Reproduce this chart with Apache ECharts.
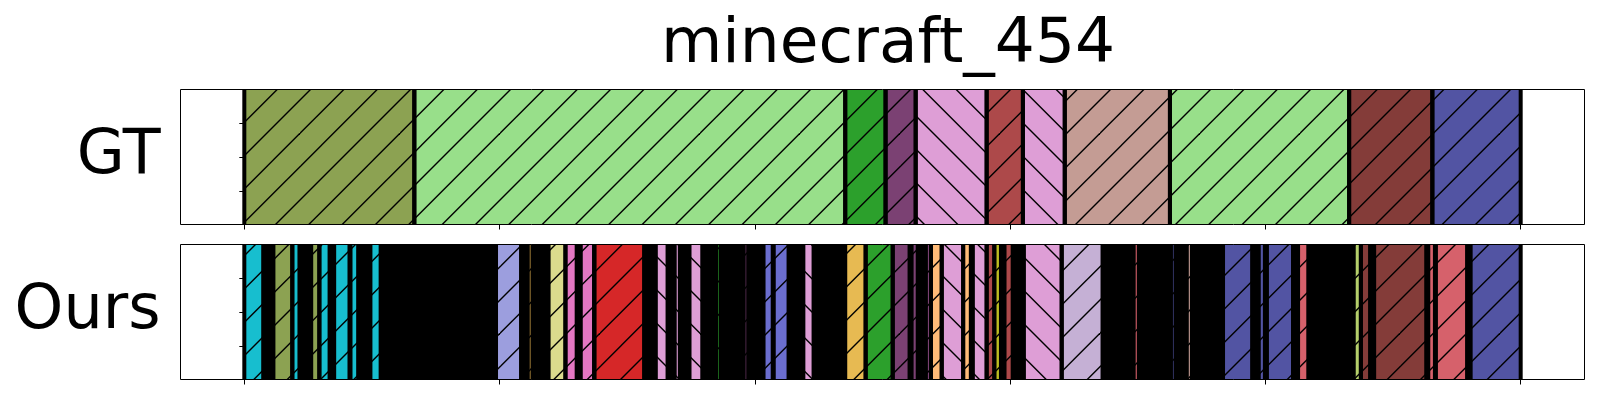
<!DOCTYPE html>
<html><head><meta charset="utf-8">
<script src="https://cdn.jsdelivr.net/npm/echarts@6/dist/echarts.min.js"></script>
<style>html,body{margin:0;padding:0;background:#fff}#c{width:1600px;height:400px}</style>
</head><body><div id="c"></div>
<script>
// ---------------- data ----------------
const chartTitle = 'minecraft_454';
const rowNames = ['GT', 'Ours'];
const videoLength = 2500;
const xTickValues = [0, 500, 1000, 1500, 2000, 2500];

// ground-truth segments (frame start, frame end, class id)
const gtStart = [0, 333, 1177, 1256, 1315, 1454, 1525, 1607, 1813, 2164, 2327];
const gtEnd   = [333, 1177, 1256, 1315, 1454, 1525, 1607, 1813, 2164, 2327, 2500];
const gtClass = [0, 1, 2, 3, 4, 5, 4, 6, 1, 7, 8];

// predicted segments that are wide enough to be visible
const oursStart = [0, 57, 94, 131, 147, 176, 208, 247, 493, 555, 596, 629, 659, 686, 806, 843, 872, 924, 978,
  1017, 1037, 1095, 1177, 1217, 1270, 1307, 1335, 1345, 1366, 1408, 1427, 1454, 1469, 1489, 1527, 1601,
  1742, 1815, 1846, 1917, 1987, 2003, 2064, 2173, 2187, 2213, 2319, 2334, 2402];
const oursEnd = [37, 94, 108, 147, 167, 206, 223, 267, 542, 565, 629, 651, 685, 783, 829, 853, 897, 933, 987,
  1035, 1066, 1115, 1217, 1270, 1303, 1319, 1345, 1366, 1408, 1423, 1454, 1469, 1482, 1505, 1601, 1681,
  1752, 1824, 1856, 1974, 1999, 2054, 2084, 2187, 2205, 2315, 2332, 2395, 2500];
const oursClass = [9, 0, 9, 0, 9, 9, 9, 9, 10, 11, 12, 13, 13, 14, 4, 4, 4, 2, 3,
  15, 15, 4, 16, 2, 3, 3, 3, 17, 4, 17, 4, 5, 18, 5, 4, 19,
  20, 8, 6, 8, 8, 8, 20, 21, 7, 7, 20, 20, 8];
// span covered by very short (edge-only) predicted segments
const oursDenseSpan = [[0, 2500]];

// ---------------- styles ----------------
const classColor = ['#8ca252', '#98df8a', '#2ca02c', '#7b4173', '#de9ed6', '#ad494a', '#c49c94', '#843c39',
  '#5254a3', '#17becf', '#9c9ede', '#8c6d31', '#dbdb8d', '#e377c2', '#d62728', '#6b6ecf', '#e7ba52',
  '#ffbb78', '#bcbd22', '#c5b0d5', '#d6616b', '#b5cf6b'];
const classHatch = classColor.map((c, i) => i === 4 ? '\\' : '/');

function makeHatch(dir) {
  const cv = document.createElement('canvas');
  cv.width = 100; cv.height = 100;
  const ctx = cv.getContext('2d');
  ctx.strokeStyle = '#000';
  ctx.lineWidth = 1.4;
  const step = 100 / 3;
  for (let k = -4; k <= 8; k++) {
    const c = k * step;
    ctx.beginPath();
    if (dir === '/') { ctx.moveTo(c + 20, -20); ctx.lineTo(c - 120, 120); }
    else { ctx.moveTo(c - 20, -20); ctx.lineTo(c + 120, 120); }
    ctx.stroke();
  }
  return cv;
}
const hatchCanvas = { '/': makeHatch('/'), '\\': makeHatch('\\') };

function zip(s, e, c) { return s.map((v, i) => [v, e[i], c[i]]); }

function renderSeg(params, api) {
  const s = api.value(0), e = api.value(1), c = api.value(2);
  const p0 = api.coord([s, 1]), p1 = api.coord([e, 0]);
  const x = p0[0], y = p0[1], w = p1[0] - p0[0], h = p1[1] - p0[1];
  return {
    type: 'group', children: [
      { type: 'rect', shape: { x, y, width: w, height: h }, style: { fill: classColor[c] }, z2: 1 },
      { type: 'rect', shape: { x, y, width: w, height: h },
        style: { fill: { image: hatchCanvas[classHatch[c]], repeat: 'repeat' } }, z2: 2 },
      { type: 'line', shape: { x1: x, y1: y, x2: x, y2: y + h }, style: { stroke: '#000', lineWidth: 4 }, z2: 3 },
      { type: 'line', shape: { x1: x + w, y1: y, x2: x + w, y2: y + h }, style: { stroke: '#000', lineWidth: 4 }, z2: 3 }
    ]
  };
}
function renderDense(params, api) {
  const p0 = api.coord([api.value(0), 1]), p1 = api.coord([api.value(1), 0]);
  return { type: 'rect', shape: { x: p0[0], y: p0[1], width: p1[0] - p0[0], height: p1[1] - p0[1] },
    style: { fill: '#000' } };
}

const font = 'DejaVu Sans';
const grids = [
  { left: 180.5, right: 15.5, top: 89.5, height: 135, show: true, borderColor: '#000', borderWidth: 1, z: 10 },
  { left: 180.5, right: 15.5, top: 244.5, height: 135, show: true, borderColor: '#000', borderWidth: 1, z: 10 }
];
const xAxes = [0, 1].map(i => ({
  type: 'value', gridIndex: i, min: -videoLength * 0.05, max: videoLength * 1.05,
  axisLine: { show: false },
  axisTick: { show: true, length: 5, customValues: xTickValues, lineStyle: { color: '#000', width: 1 } },
  axisLabel: { show: false }, splitLine: { show: false }
}));
const yAxes = [0, 1].map(i => ({
  type: 'value', gridIndex: i, min: 0, max: 1, interval: 0.25,
  name: rowNames[i], nameLocation: 'middle', nameRotate: 0, nameGap: 20,
  nameTextStyle: { fontSize: 62, fontFamily: font, color: '#000', align: 'right', verticalAlign: 'middle',
    padding: [0, 0, 9, 0] },
  axisLine: { show: false },
  axisTick: { show: true, length: 5, lineStyle: { color: '#000', width: 1 } },
  axisLabel: { show: false }, splitLine: { show: false }
}));

const chart = echarts.init(document.getElementById('c'), null, { renderer: 'canvas' });
chart.setOption({
  animation: false,
  backgroundColor: '#fff',
  title: { text: chartTitle, left: 883, top: 9, textAlign: 'center',
    textStyle: { fontSize: 63, fontFamily: font, fontWeight: 'normal', color: '#000' } },
  grid: grids, xAxis: xAxes, yAxis: yAxes,
  series: [
    { type: 'custom', xAxisIndex: 0, yAxisIndex: 0, renderItem: renderSeg, z: 2,
      encode: { x: [0, 1] }, data: zip(gtStart, gtEnd, gtClass) },
    { type: 'custom', xAxisIndex: 1, yAxisIndex: 1, renderItem: renderDense, z: 1,
      encode: { x: [0, 1] }, data: oursDenseSpan },
    { type: 'custom', xAxisIndex: 1, yAxisIndex: 1, renderItem: renderSeg, z: 2,
      encode: { x: [0, 1] }, data: zip(oursStart, oursEnd, oursClass) }
  ]
});
</script></body></html>
